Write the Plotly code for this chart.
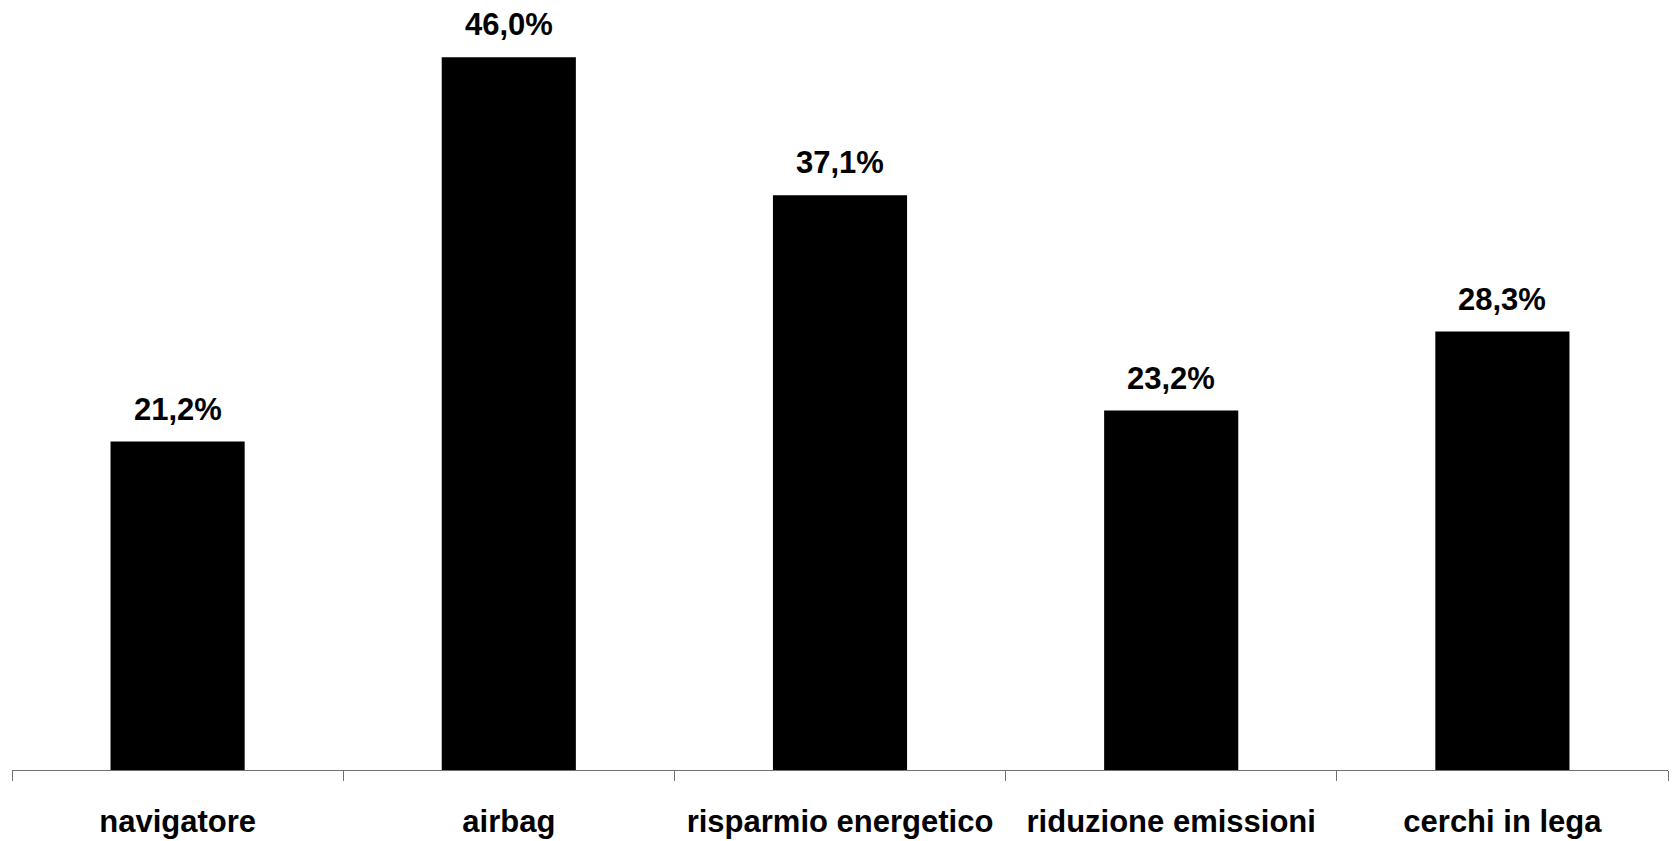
import plotly.graph_objects as go

categories = ["navigatore", "airbag", "risparmio energetico", "riduzione emissioni", "cerchi in lega"]
values = [21.2, 46.0, 37.1, 23.2, 28.3]

FONT = "Liberation Sans, Arial, sans-serif"

fig = go.Figure(
    go.Bar(
        x=categories,
        y=values,
        marker=dict(color="#000000", line=dict(width=0)),
        hoverinfo="skip",
    )
)

for cat, val in zip(categories, values):
    fig.add_annotation(
        x=cat,
        y=val,
        text="<b>" + f"{val:.1f}".replace(".", ",") + "%</b>",
        showarrow=False,
        yanchor="bottom",
        yshift=13,
        font=dict(family=FONT, size=31, color="#000000"),
    )

fig.update_layout(
    width=1673,
    height=841,
    margin=dict(l=12, r=5, t=0, b=71),
    paper_bgcolor="white",
    plot_bgcolor="white",
    bargap=0.595,
    showlegend=False,
    xaxis=dict(
        showline=True,
        linecolor="#707070",
        linewidth=1,
        ticks="outside",
        tickson="boundaries",
        ticklen=10,
        tickcolor="#707070",
        tickwidth=1,
        showgrid=False,
        tickfont=dict(family=FONT, size=31, color="#000000"),
        ticklabelstandoff=24,
    ),
    yaxis=dict(
        range=[0, 49.7],
        visible=False,
        showgrid=False,
        zeroline=False,
    ),
)

fig.update_xaxes(tickvals=categories, ticktext=["<b>" + c + "</b>" for c in categories])

fig.write_html("out.html")
